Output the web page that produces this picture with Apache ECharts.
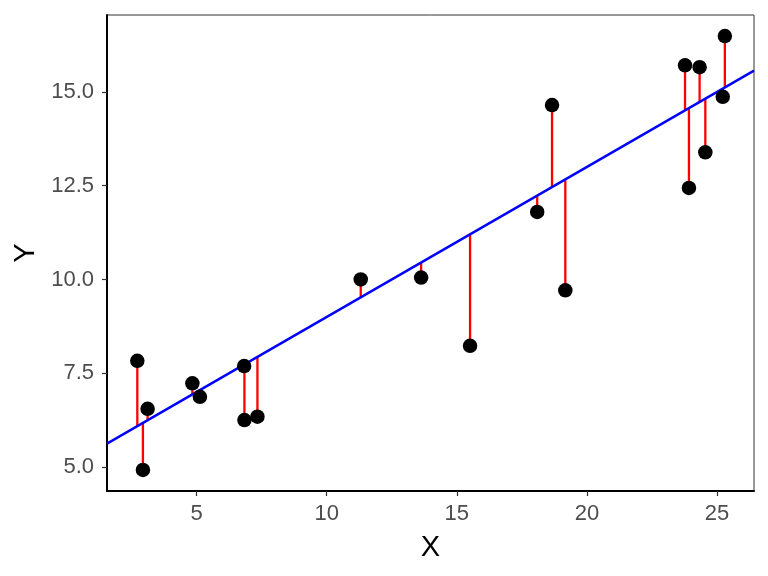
<!DOCTYPE html>
<html>
<head>
<meta charset="utf-8">
<script src="https://cdn.jsdelivr.net/npm/echarts@6/dist/echarts.min.js"></script>
<style>html,body{margin:0;padding:0;background:#fff;}#c{width:768px;height:576px;}</style>
</head>
<body>
<div id="c"></div>
<script>
// data
var xs = [2.725, 2.94, 3.12, 4.84, 5.13, 6.83, 6.84, 7.34, 11.31, 13.63, 15.51, 18.09, 18.66, 19.17, 23.77, 23.92, 24.33, 24.55, 25.22, 25.30];
var ys = [7.83, 4.92, 6.55, 7.23, 6.87, 7.69, 6.25, 6.34, 10.0, 10.05, 8.23, 11.8, 14.65, 9.71, 15.71, 12.44, 15.66, 13.39, 14.87, 16.49];
var fitIntercept = 5.0;
var fitSlope = 0.4;
var xTicks = [5, 10, 15, 20, 25];
var yTicks = [5, 7.5, 10, 12.5, 15];
var xRange = [1.56, 26.42];
var yRange = [4.36, 17.05];

function fit(x) { return fitIntercept + fitSlope * x; }

var FONT = "'Liberation Sans', Arial, sans-serif";
var points = xs.map(function (x, i) { return [x, ys[i]]; });
var residSeries = xs.map(function (x, i) {
  return {
    type: 'line', data: [[x, ys[i]], [x, fit(x)]], symbol: 'none', silent: true,
    lineStyle: { color: '#FF0000', width: 2.3 }, z: 2, animation: false
  };
});

var chart = echarts.init(document.getElementById('c'), null, { renderer: 'canvas' });
var option = {
  backgroundColor: '#ffffff',
  animation: false,
  grid: { left: 107, right: 14, top: 15, bottom: 85, show: true, borderColor: '#333333', borderWidth: 1, backgroundColor: 'transparent' },
  xAxis: {
    type: 'value', min: xRange[0], max: xRange[1],
    name: 'X', nameLocation: 'middle', nameGap: 42,
    nameTextStyle: { fontFamily: FONT, fontSize: 29, color: '#000000' },
    axisLine: { show: true, onZero: false, lineStyle: { color: '#000000', width: 2 } },
    axisTick: { show: true, length: 5, customValues: xTicks, lineStyle: { color: '#333333', width: 1.2 } },
    axisLabel: { customValues: xTicks, margin: 12, fontFamily: FONT, fontSize: 22, color: '#4D4D4D' },
    splitLine: { show: false }
  },
  yAxis: {
    type: 'value', min: yRange[0], max: yRange[1],
    name: 'Y', nameLocation: 'middle', nameGap: 66, nameRotate: 90,
    nameTextStyle: { fontFamily: FONT, fontSize: 29, color: '#000000' },
    axisLine: { show: true, onZero: false, lineStyle: { color: '#000000', width: 2 } },
    axisTick: { show: true, length: 5, customValues: yTicks, lineStyle: { color: '#333333', width: 1.2 } },
    axisLabel: { customValues: yTicks, margin: 13, fontFamily: FONT, fontSize: 22, color: '#4D4D4D',
      formatter: function (v) { return Number(v).toFixed(1); } },
    splitLine: { show: false }
  },
  series: residSeries.concat([
    {
      type: 'line', data: [[xRange[0], fit(xRange[0])], [xRange[1], fit(xRange[1])]], symbol: 'none', silent: true,
      lineStyle: { color: '#0000FF', width: 2.4 }, z: 3
    },
    {
      type: 'scatter', data: points, symbolSize: 14.5,
      itemStyle: { color: '#000000', opacity: 1 }, z: 4
    }
  ])
};
chart.setOption(option);
</script>
</body>
</html>
